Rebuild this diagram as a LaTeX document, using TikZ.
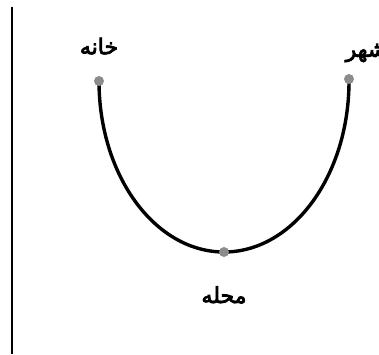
\documentclass[tikz,border=0pt]{standalone}
\usepackage{fontspec}
\TeXXeTstate=1
\newfontfamily\arabicfont[Script=Arabic,FakeBold=3.5]{DejaVu Sans}
\tikzset{
  dot/.style={circle,fill=gray!90,inner sep=0pt,minimum size=10pt},
  lbl/.style={font=\arabicfont\fontsize{22}{26}\selectfont,inner sep=0pt},
  curve/.style={line width=3.4pt},
}
\begin{document}
\begin{tikzpicture}[x=1pt,y=-1pt]
\useasboundingbox (0,0) rectangle (379,354);
\coordinate (top) at (12,7);
\coordinate (bot) at (12,354);
\draw[line width=2.8pt] (top) -- (bot);
\coordinate (h) at (99,81);
\coordinate (m) at (224,252);
\coordinate (s) at (349,79);
\draw[curve] (h) arc[start angle=180,end angle=360,x radius=125,y radius=-171];
\node[dot] (nh) at (h) {};
\node[dot] (nm) at (m) {};
\node[dot] (ns) at (s) {};
\node[lbl] (th) at (99,46) {\beginR خانه\endR};
\node[lbl] (ts) at (366,53) {\beginR شهر\endR};
\node[lbl] (tm) at (224,295) {\beginR محله\endR};
\end{tikzpicture}
\end{document}
